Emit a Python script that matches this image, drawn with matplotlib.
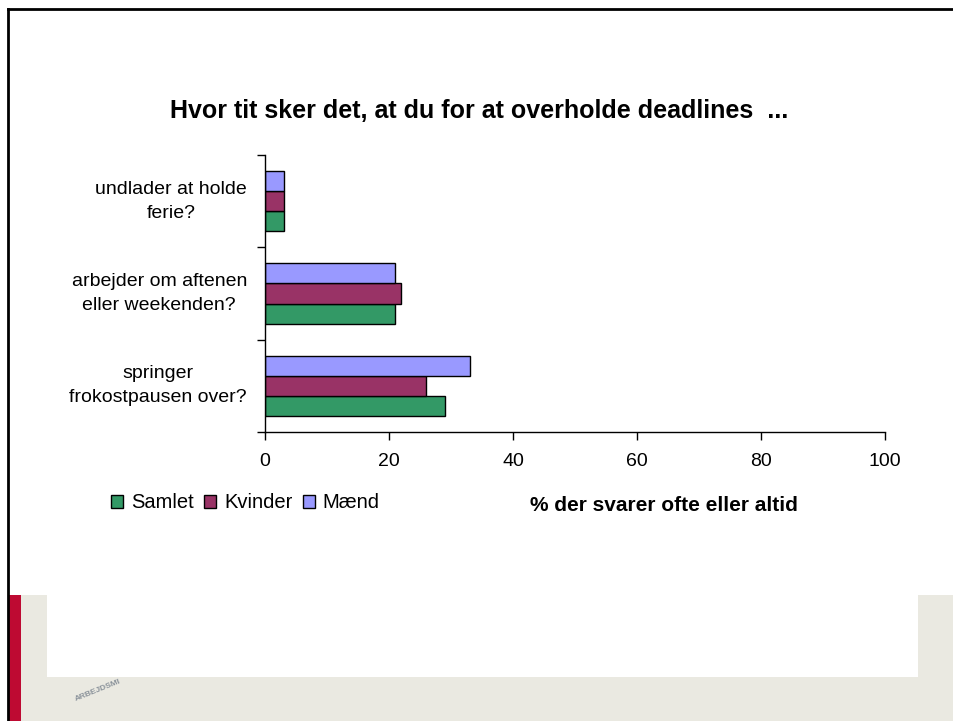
import matplotlib
matplotlib.use("Agg")
import matplotlib.pyplot as plt
import matplotlib.patches as mpatches
import matplotlib.transforms as mtransforms
import numpy as np

plt.rcParams['font.family'] = ['Liberation Sans', 'DejaVu Sans']

categories = ["springer\nfrokostpausen over?", "arbejder om aftenen\neller weekenden?", "undlader at holde\nferie?"]
series_names = ["Samlet", "Kvinder", "Mænd"]
samlet = [29, 21, 3]
kvinder = [26, 22, 3]
maend = [33, 21, 3]
colors = ["#339966", "#993366", "#9999FF"]
xticks = [0, 20, 40, 60, 80, 100]
title = "Hvor tit sker det, at du for at overholde deadlines  ..."
xlabel = "% der svarer ofte eller altid"

W, H = 954, 721
fig = plt.figure(figsize=(W / 100, H / 100), dpi=100)

# background decoration
bg = fig.add_axes([0, 0, 1, 1], zorder=-10)
bg.set_xlim(0, W); bg.set_ylim(H, 0); bg.axis('off')
bg.add_patch(mpatches.Rectangle((8, 595), W - 8, H - 595, color="#EAE9E1", lw=0))
bg.add_patch(mpatches.Rectangle((47, 595), 918 - 47, 677 - 595, color="white", lw=0))
bg.add_patch(mpatches.Rectangle((8, 595), 13, H - 595, color="#BE0A32", lw=0))
bg.plot([8, W], [9, 9], color="black", lw=2)
bg.plot([8, 8], [9, H], color="black", lw=2)
bg.text(98, 690, "ARBEJDSMI", rotation=22, fontsize=6, color="#8A929A",
        ha='center', va='center', fontweight='bold')

ax = fig.add_axes([265 / W, 1 - 432 / H, 620 / W, (432 - 155) / H])
y = np.arange(len(categories))
h = 0.217
for vals, off, c, name in zip([samlet, kvinder, maend], [-h, 0, h], colors, series_names):
    ax.barh(y + off, vals, height=h, color=c, edgecolor="black", linewidth=1.0, label=name)

ax.set_xlim(0, 100)
ax.set_ylim(-0.5, len(categories) - 0.5)
ax.set_xticks(xticks)
ax.set_xticklabels([str(t) for t in xticks], fontsize=14)
ax.set_yticks(np.arange(-0.5, len(categories), 1.0))
ax.set_yticklabels([])
ax.tick_params(axis='y', direction='out', length=6, width=1)
ax.tick_params(axis='x', direction='out', length=6, width=1, pad=9)
for s in ['top', 'right']:
    ax.spines[s].set_visible(False)
for s in ['left', 'bottom']:
    ax.spines[s].set_linewidth(1)

trans = mtransforms.blended_transform_factory(ax.transAxes, ax.transData)
for yi, lab in zip(y, categories):
    ax.text((247 - 265) / 620, yi, lab, transform=trans, ha='right', va='center',
            multialignment='center', fontsize=14, linespacing=1.55)

fig.text(479.5 / W, 1 - 118 / H, title, ha='center', va='baseline', fontsize=18, fontweight='bold')
fig.text(664 / W, 1 - 511 / H, xlabel, ha='center', va='baseline', fontsize=15, fontweight='bold')

handles = [mpatches.Patch(facecolor=c, edgecolor='black', linewidth=1) for c in colors]
fig.legend(handles, series_names, loc='center left', bbox_to_anchor=(111 / W, 1 - 503 / H),
           ncol=3, frameon=False, fontsize=14.5, handlelength=0.6, handleheight=0.6,
           handletextpad=0.4, columnspacing=0.5, borderpad=0, borderaxespad=0)

fig.savefig("out.png", dpi=100)
